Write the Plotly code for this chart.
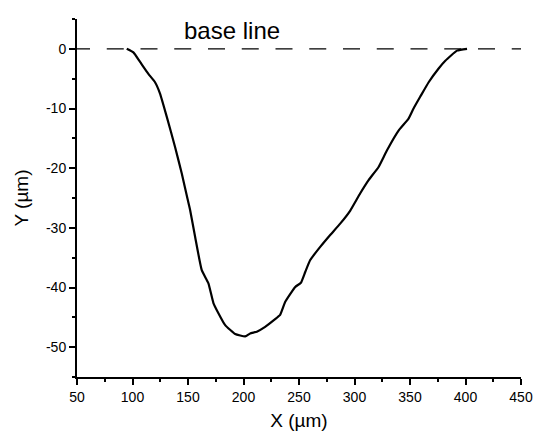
import plotly.graph_objects as go

# profile
x_um = [94.8, 100.8, 106.8, 114.3, 120.3, 124.8, 130.9, 138.4, 144.4, 149.5,
        151.9, 156.4, 162.4, 168.4, 172.9, 177.4, 183.5, 192.5, 201.5, 206.0,
        212.0, 219.5, 228.5, 233.0, 237.6, 246.6, 251.7, 255.6, 260.1, 269.1,
        278.1, 287.1, 296.2, 305.2, 312.7, 321.7, 329.3, 339.7, 348.7, 353.2,
        359.3, 366.8, 375.8, 381.8, 392.4, 401.4]
y_um = [0.0, -0.6, -2.2, -4.2, -5.6, -7.5, -11.4, -16.5, -20.9, -25.1,
        -27.0, -31.5, -37.1, -39.3, -42.6, -44.3, -46.3, -47.8, -48.2, -47.7,
        -47.4, -46.6, -45.3, -44.6, -42.4, -39.9, -39.2, -37.4, -35.4, -33.2,
        -31.2, -29.3, -27.1, -24.2, -22.0, -19.8, -17.0, -13.7, -11.7, -10.0,
        -8.0, -5.6, -3.3, -2.0, -0.3, 0.0]

base_x = [46.4, 450]
base_y = [0, 0]

x_ticks = [50, 100, 150, 200, 250, 300, 350, 400, 450]
y_ticks = [0, -10, -20, -30, -40, -50]
y_tick_labels = ["0", "-10", "-20", "-30", "-40", "-50"]

font = "Liberation Sans, Arial, sans-serif"

fig = go.Figure()
fig.add_trace(go.Scatter(x=base_x, y=base_y, mode="lines",
                         line=dict(color="black", width=1.4, dash="17px,16.75px"),
                         showlegend=False))
fig.add_trace(go.Scatter(x=x_um, y=y_um, mode="lines",
                         line=dict(color="black", width=2.2, shape="spline", smoothing=0.4),
                         showlegend=False))

fig.add_annotation(x=189.8, y=3.1, text="base line", showarrow=False,
                   xanchor="center", yanchor="middle",
                   font=dict(family=font, size=24, color="black"))

axis_style = dict(showline=True, linecolor="black", linewidth=2,
                  ticks="outside", ticklen=6, tickwidth=2, tickcolor="black",
                  showgrid=False, zeroline=False, mirror=False,
                  tickfont=dict(family=font, size=14, color="black"))

fig.update_xaxes(range=[50, 450], tickvals=x_ticks,
                 minor=dict(ticks="outside", ticklen=3, tickwidth=2,
                            tickcolor="black", dtick=25, tick0=50, showgrid=False),
                 title=dict(text="X (µm)", font=dict(family=font, size=19, color="black"),
                            standoff=10),
                 **axis_style)
fig.update_yaxes(range=[-55, 5], tickvals=y_ticks, ticktext=y_tick_labels,
                 minor=dict(ticks="outside", ticklen=3, tickwidth=2,
                            tickcolor="black", dtick=5, tick0=0, showgrid=False),
                 title=dict(text="Y (µm)", font=dict(family=font, size=19, color="black"),
                            standoff=12),
                 **axis_style)

# page body adds 8px, so margins are shifted back by that much
fig.update_layout(width=550, height=445,
                  margin=dict(l=69, r=37, t=11, b=76, autoexpand=False),
                  plot_bgcolor="white", paper_bgcolor="white",
                  font=dict(family=font, color="black"))

fig.write_html("out.html")
